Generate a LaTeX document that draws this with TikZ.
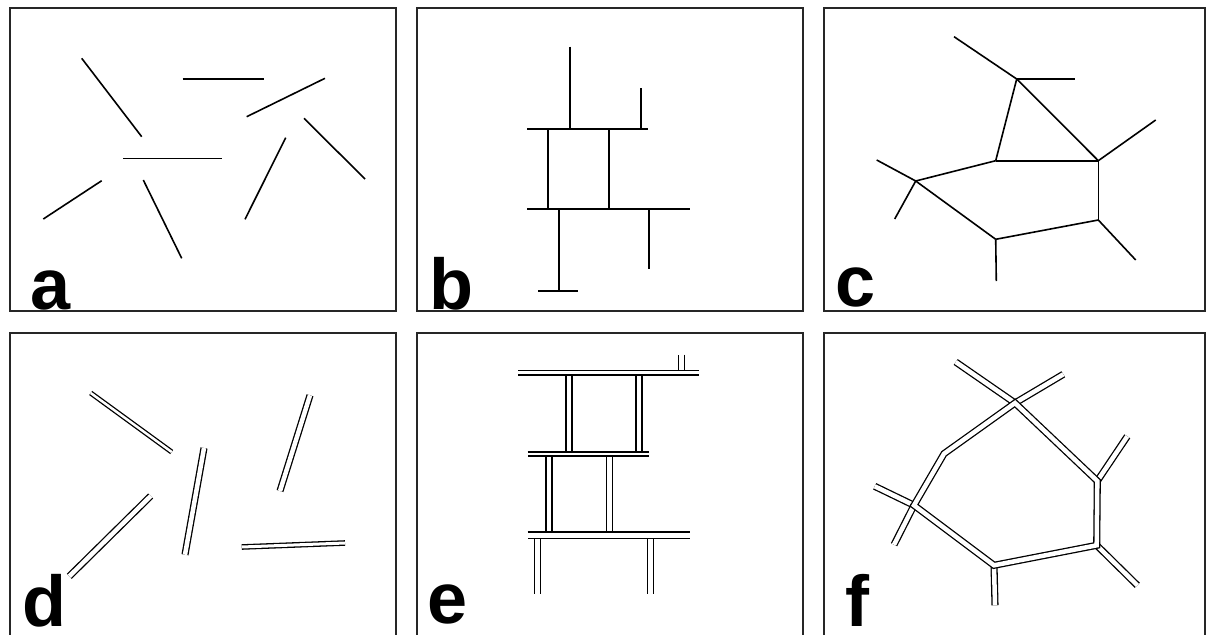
\documentclass[tikz,border=0pt]{standalone}
\usepackage{fontspec}
\setmainfont{Liberation Sans}
\begin{document}
\begin{tikzpicture}[x=1pt,y=-1pt,
  frame/.style={draw=black!85, line width=2pt},
  seg/.style={draw=black, line width=1.6pt},
  segb/.style={draw=black, line width=2pt},
  dbl/.style={draw=black, line width=1.3pt, double=white, double distance=#1},
  lab/.style={anchor=base west, inner sep=0pt, font=\fontsize{72}{80}\selectfont\bfseries}]
\useasboundingbox (0,0) rectangle (1206,634);
\clip (0,0) rectangle (1206,634);
% frames
\draw[frame] (10,8) rectangle (396,311);
\draw[frame] (417,8) rectangle (802.5,311);
\draw[frame] (824,8) rectangle (1205,311);
\draw[frame] (10,333) rectangle (396,660);
\draw[frame] (417,333) rectangle (802.5,660);
\draw[frame] (824,333) rectangle (1205,660);

% panel a
\draw[seg] (81.7,58.3) -- (141.7,136.7);
\draw[seg] (182.7,78.7) -- (264,78.7);
\draw[seg] (246.7,116.7) -- (325,78.3);
\draw[seg] (123.3,158.3) -- (221.7,158.3);
\draw[seg] (304,118.3) -- (365,179);
\draw[seg] (285.7,137.7) -- (245,219.3);
\draw[seg] (101.7,180.7) -- (43.3,219);
\draw[seg] (143.3,180) -- (181.7,258.3);
\node[lab] (la) at (30,309) {a};

% panel b
\draw[segb] (569.7,46.7) -- (569.7,129.3);
\draw[segb] (640.7,88.3) -- (640.7,129.3);
\draw[segb] (527,129.3) -- (648,129.3);
\draw[segb] (547.7,129.3) -- (547.7,209.3);
\draw[segb] (609.3,129.3) -- (609.3,209.3);
\draw[segb] (527,209.3) -- (690.3,209.3);
\draw[segb] (558.7,209.3) -- (558.7,290.7);
\draw[segb] (538,290.7) -- (577.7,290.7);
\draw[segb] (649.3,209.3) -- (649.3,269.3);
\node[lab] (lb) at (429,309) {b};

% panel c
\coordinate (cA) at (1016.7,79);
\coordinate (cA1) at (954,36.7);
\coordinate (cA2) at (1074.7,79);
\coordinate (cB) at (1098.3,160.7);
\coordinate (cB1) at (1155.7,120);
\coordinate (cC) at (995.7,160.7);
\coordinate (cD) at (915.7,181);
\coordinate (cD1) at (876.7,160);
\coordinate (cD2) at (894.7,219);
\coordinate (cE) at (995.7,239.3);
\coordinate (cE1) at (996.3,281);
\coordinate (cF) at (1098.3,220);
\coordinate (cF1) at (1135.7,260);
\draw[seg] (cA1) -- (cA) -- (cB);
\draw[seg] (cA) -- (cA2);
\draw[seg] (cA) -- (cC);
\draw[seg] (cC) -- (cB);
\draw[seg] (cB) -- (cB1);
\draw[seg] (cC) -- (cD);
\draw[seg] (cD1) -- (cD) -- (cE);
\draw[seg] (cD) -- (cD2);
\draw[seg] (cE) -- (cE1);
\draw[seg] (cE) -- (cF);
\draw[seg] (cF) -- (cB);
\draw[seg] (cF) -- (cF1);
\node[lab] (lc) at (835,306) {c};

% panel d
\draw[dbl=2.5pt] (90.7,393) -- (171.7,452);
\draw[dbl=4.5pt] (310,395.3) -- (280,491);
\draw[dbl=4.5pt] (204,448) -- (185,554.7);
\draw[dbl=4.5pt] (150.7,496) -- (69.3,576.3);
\draw[dbl=3pt] (241.7,547) -- (345,543);
\node[lab] (ld) at (22,626) {d};

% panel e: verticals first, then horizontals
\draw[dbl=4.8pt] (681.3,354.7) -- (681.3,372.8);
\draw[dbl=4.8pt] (569,372.8) -- (569,454);
\draw[dbl=4.8pt] (639,372.8) -- (639,454);
\draw[dbl=4.8pt] (549,454) -- (549,535.3);
\draw[dbl=4.8pt] (609.5,454) -- (609.5,535.3);
\draw[dbl=4.8pt] (537.3,535.3) -- (537.3,594.3);
\draw[dbl=4.8pt] (650.3,535.3) -- (650.3,594.3);
\draw[dbl=2.8pt] (518,372.8) -- (698.7,372.8);
\draw[dbl=2.8pt] (527.7,454) -- (648.7,454);
\draw[dbl=5.5pt] (527.7,535.3) -- (690.3,535.3);
\node[lab] (le) at (427,623) {e};

% panel f
\coordinate (fP) at (1015,403);
\coordinate (fP1) at (955.7,362);
\coordinate (fP2) at (1063.3,374.3);
\coordinate (fQ) at (1097.3,481);
\coordinate (fQ1) at (1127.3,436.3);
\coordinate (fR) at (1096.7,545.3);
\coordinate (fR1) at (1137.3,585.3);
\coordinate (fS) at (994,565.3);
\coordinate (fS1) at (995,605.3);
\coordinate (fT) at (914,505.3);
\coordinate (fT1) at (874.7,486.3);
\coordinate (fT2) at (894,544.7);
\coordinate (fU) at (944,453.7);
\draw[dbl=4.5pt] (fP1) -- (fP);
\draw[dbl=4.5pt] (fP2) -- (fP);
\draw[dbl=4.5pt] (fQ1) -- (fQ);
\draw[dbl=4.5pt] (fR1) -- (fR);
\draw[dbl=4.5pt] (fS1) -- (fS);
\draw[dbl=4.5pt] (fT1) -- (fT);
\draw[dbl=4.5pt] (fT2) -- (fT);
\draw[dbl=4.5pt, line join=miter] (fP) -- (fQ) -- (fR) -- (fS) -- (fT) -- (fU) -- cycle;
\node[lab] (lf) at (845,626) {f};
\end{tikzpicture}
\end{document}
